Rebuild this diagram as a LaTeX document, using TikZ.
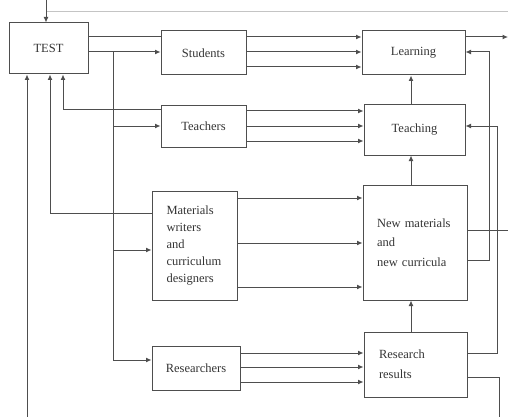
\documentclass[tikz,border=0pt]{standalone}
\usepackage{fontspec}
\setmainfont{Liberation Serif}
\usetikzlibrary{arrows.meta}
\definecolor{linec}{HTML}{4E4E4E}
\definecolor{txtc}{HTML}{333333}
\definecolor{rulec}{HTML}{C4C4C4}
\begin{document}
\begin{tikzpicture}[x=1pt,y=-1pt,
  box/.style={draw=linec, line width=1pt, inner sep=0pt, text=txtc,
              font=\fontsize{12.5}{17}\selectfont},
  lbox/.style={box, align=left, inner xsep=15pt},
  conn/.style={draw=linec, line width=1pt},
  arr/.style={conn, -{Latex[length=5.5pt,width=5pt]}},
]
\useasboundingbox (0,0) rectangle (508,417);

% boxes
\node[box, minimum width=79pt, minimum height=51pt] (test) at (48.5,48.5) {TEST};
\node[box, minimum width=85pt, minimum height=44pt] (students) at (203.5,53) {Students};
\node[box, minimum width=85pt, minimum height=41pt] (teachers) at (203.5,126.5) {Teachers};
\node[lbox, minimum width=85pt, minimum height=109pt, text width=56pt,
      inner xsep=14.5pt, font=\fontsize{12.5}{17}\selectfont] (materials) at (194.5,245.5)
      {Materials\\writers\\and\\curriculum\\designers};
\node[box, minimum width=88pt, minimum height=44pt] (researchers) at (196,368) {Researchers};
\node[box, minimum width=103pt, minimum height=44pt] (learning) at (413.5,53) {Learning};
\node[box, minimum width=101pt, minimum height=50pt] (teaching) at (414.5,130) {Teaching};
\node[lbox, minimum width=104pt, minimum height=115pt, text width=76pt,
      inner xsep=14pt, font=\fontsize{12.5}{19.5}\selectfont] (newmat) at (415,242.5)
      {New materials\\and\\new curricula};
\node[lbox, minimum width=103pt, minimum height=65pt, text width=73pt,
      font=\fontsize{12.5}{20}\selectfont] (results) at (415.5,364.5)
      {Research\\results};

% top rule and incoming arrow into TEST
\draw[rulec, line width=0.8pt] (46,11) -- (510,11);
\coordinate (topin) at (46,-4);
\draw[arr] (topin) -- (test.north -| topin);

% TEST to Students
\draw[conn] (test.east |- 0,37) -- (students.west |- 0,37);
\draw[arr] (test.east |- 0,52) -- (students.west |- 0,52);

% distribution branch
\coordinate (j0) at (113,52);
\coordinate (j1) at (113,126);
\coordinate (j2) at (113,250);
\coordinate (j3) at (113,360);
\draw[conn] (j0) -- (j3);
\draw[arr] (j1) -- (teachers.west |- j1);
\draw[arr] (j2) -- (materials.west |- j2);
\draw[arr] (j3) -- (researchers.west |- j3);

% feedback into TEST
\draw[arr] (teachers.west |- 0,110) -| (test.south -| 63,0);
\draw[arr] (materials.west |- 0,213) -| (test.south -| 50,0);
\draw[arr] (results.east |- 0,377) -- (499,377) -- (499,428) -- (27,428) -- (test.south -| 27,0);

% triple arrows
\foreach \y in {37,52,67} \draw[arr] (students.east |- 0,\y) -- (learning.west |- 0,\y);
\foreach \y in {111,126,141} \draw[arr] (teachers.east |- 0,\y) -- (teaching.west |- 0,\y);
\foreach \y in {198,243,287} \draw[arr] (materials.east |- 0,\y) -- (newmat.west |- 0,\y);
\foreach \y in {353,367,382} \draw[arr] (researchers.east |- 0,\y) -- (results.west |- 0,\y);

% vertical chain
\draw[arr] (teaching.north -| 411,0) -- (learning.south -| 411,0);
\draw[arr] (newmat.north -| 411,0) -- (teaching.south -| 411,0);
\draw[arr] (results.north -| 411,0) -- (newmat.south -| 411,0);

% right side
\coordinate (out1) at (508,37);
\draw[arr] (learning.east |- out1) -- (out1);
\draw[arr] (newmat.east |- 0,260) -| (489,52) -- (learning.east |- 0,52);
\draw[arr] (results.east |- 0,353) -| (497,126) -- (teaching.east |- 0,126);
\draw[conn] (newmat.east |- 0,230) -- (512,230);
\end{tikzpicture}
\end{document}
